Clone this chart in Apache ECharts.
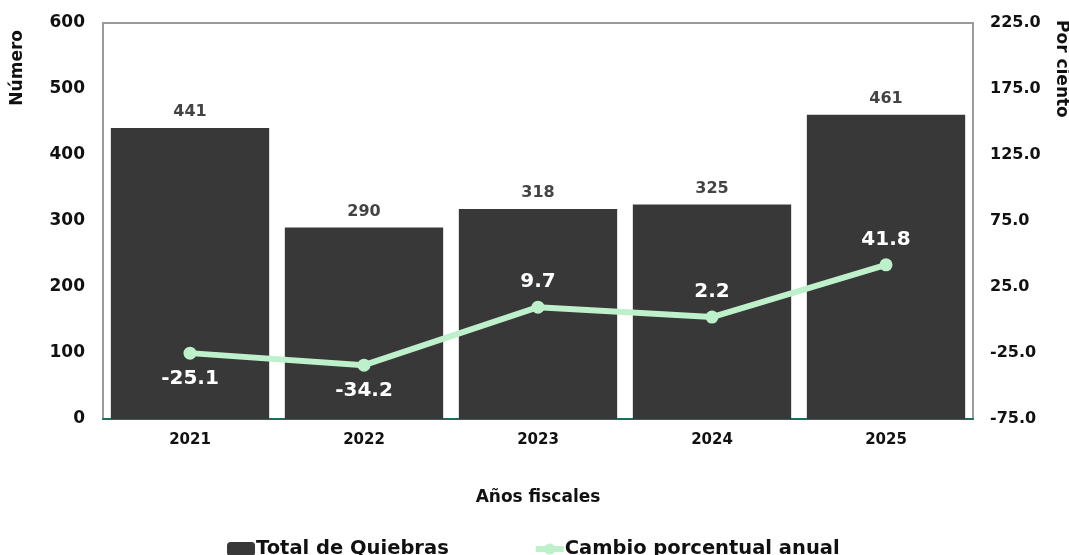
<!DOCTYPE html>
<html>
<head>
<meta charset="utf-8">
<style>
  html, body { margin: 0; padding: 0; background: #fff; }
  #chart { width: 1069px; height: 555px; }
</style>
<script src="https://cdn.jsdelivr.net/npm/echarts@6/dist/echarts.min.js"></script>
</head>
<body>
<div id="chart"></div>
<script>
var years = ['2021', '2022', '2023', '2024', '2025'];
var totalQuiebras = [441, 290, 318, 325, 461];
var cambioAnual = [-25.1, -34.2, 9.7, 2.2, 41.8];
var labelBelow = [true, true, false, false, false];

var FONT = '"DejaVu Sans", sans-serif';

var myChart = echarts.init(document.getElementById('chart'));
var option = {
    backgroundColor: '#fff',
    textStyle: { fontFamily: FONT },
    grid: {
        left: 103, right: 96, top: 23, bottom: 136,
        show: true,
        borderColor: '#9a9a9a',
        borderWidth: 2
    },
    graphic: [
        { // nombre eje izquierdo
            type: 'text', left: 9, top: 30, rotation: Math.PI / 2,
            style: { text: 'Número', fontFamily: FONT, fontWeight: 'bold', fontSize: 17, fill: '#111' }
        },
        { // nombre eje derecho
            type: 'text', right: -1, top: 20, rotation: -Math.PI / 2,
            style: { text: 'Por ciento', fontFamily: FONT, fontWeight: 'bold', fontSize: 17, fill: '#111' }
        }
    ],
    legend: {
        bottom: -9,
        left: 222,
        itemGap: 84,
        itemWidth: 28,
        itemHeight: 14,
        textStyle: { fontFamily: FONT, fontWeight: 'bold', fontSize: 19.5, color: '#111', padding: [0, 0, 0, -4] },
        data: [
            { name: 'Total de Quiebras' },
            { name: 'Cambio porcentual anual', lineStyle: { width: 6 } }
        ]
    },
    xAxis: {
        type: 'category',
        data: years,
        name: 'Años fiscales',
        nameLocation: 'middle',
        nameGap: 70,
        nameTextStyle: { fontFamily: FONT, fontWeight: 'bold', fontSize: 17, color: '#111' },
        axisLine: { show: true, lineStyle: { color: '#1b6e5e', width: 2 } },
        axisTick: { show: false },
        axisLabel: { fontFamily: FONT, fontWeight: 'bold', fontSize: 15, color: '#111', margin: 14 }
    },
    yAxis: [
        {
            type: 'value',
            min: 0, max: 600, interval: 100,
            splitLine: { show: false },
            axisLine: { show: false },
            axisTick: { show: false },
            axisLabel: { fontFamily: FONT, fontWeight: 'bold', fontSize: 17, color: '#111', margin: 18 }
        },
        {
            type: 'value',
            min: -75, max: 225, interval: 50,
            splitLine: { show: false },
            axisLine: { show: false },
            axisTick: { show: false },
            axisLabel: {
                fontFamily: FONT, fontWeight: 'bold', fontSize: 16, color: '#111', margin: 17,
                formatter: function (v) { return v.toFixed(1); }
            }
        }
    ],
    series: [
        {
            name: 'Total de Quiebras',
            type: 'bar',
            data: totalQuiebras,
            barCategoryGap: '9%',
            itemStyle: { color: '#383838' },
            label: {
                show: true, position: 'top', distance: 8,
                fontFamily: FONT, fontWeight: 'bold', fontSize: 16, color: '#444'
            }
        },
        {
            name: 'Cambio porcentual anual',
            type: 'line',
            yAxisIndex: 1,
            data: cambioAnual.map(function (v, i) {
                return {
                    value: v,
                    label: { position: labelBelow[i] ? 'bottom' : 'top', distance: 9 }
                };
            }),
            symbol: 'circle',
            symbolSize: 13,
            lineStyle: { color: '#bdf0cb', width: 6 },
            itemStyle: { color: '#bdf0cb' },
            label: {
                show: true,
                fontFamily: FONT, fontWeight: 'bold', fontSize: 20, color: '#fff',
                formatter: function (p) { return p.value.toFixed(1); }
            },
            z: 5
        }
    ]
};
myChart.setOption(option);
</script>
</body>
</html>
